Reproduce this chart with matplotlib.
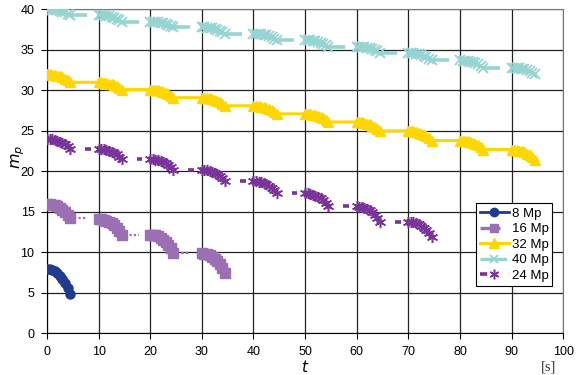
import matplotlib.pyplot as plt
import numpy as np
from matplotlib.lines import Line2D

plt.rcParams['font.family'] = ['Liberation Sans', 'DejaVu Sans']

# time inside each 10 s period where markers are recorded
t_step = [0, 0.5, 1.0, 1.5, 2.0, 2.5, 3.0, 3.5, 4.0, 4.5]

mp8 = [[8.0, 7.94, 7.84, 7.68, 7.42, 7.10, 6.72, 6.24, 5.60, 4.80]]

mp16 = [
    [16.0, 15.96, 15.91, 15.82, 15.68, 15.50, 15.28, 15.01, 14.65, 14.20],
    [14.1, 14.06, 14.01, 13.91, 13.76, 13.57, 13.34, 13.06, 12.68, 12.20],
    [12.2, 12.15, 12.09, 11.97, 11.79, 11.56, 11.28, 10.94, 10.48, 9.90],
    [9.9, 9.85, 9.78, 9.65, 9.45, 9.20, 8.90, 8.53, 8.03, 7.40],
]

mp32 = [
    [32.0, 31.98, 31.95, 31.90, 31.82, 31.72, 31.60, 31.45, 31.25, 31.00],
    [31.0, 30.98, 30.96, 30.91, 30.84, 30.75, 30.64, 30.51, 30.33, 30.10],
    [30.1, 30.08, 30.05, 30.00, 29.92, 29.82, 29.70, 29.55, 29.35, 29.10],
    [29.1, 29.08, 29.05, 29.00, 28.92, 28.82, 28.70, 28.55, 28.35, 28.10],
    [28.1, 28.08, 28.05, 28.00, 27.92, 27.82, 27.70, 27.55, 27.35, 27.10],
    [27.1, 27.08, 27.05, 27.00, 26.92, 26.82, 26.70, 26.55, 26.35, 26.10],
    [26.1, 26.08, 26.05, 25.99, 25.90, 25.79, 25.66, 25.50, 25.28, 25.00],
    [25.0, 24.98, 24.94, 24.88, 24.78, 24.66, 24.52, 24.34, 24.10, 23.80],
    [23.8, 23.78, 23.75, 23.69, 23.60, 23.49, 23.36, 23.20, 22.98, 22.70],
    [22.7, 22.67, 22.64, 22.57, 22.47, 22.34, 22.18, 21.99, 21.73, 21.40],
]

mp40 = [
    [40.0, 39.99, 39.97, 39.93, 39.87, 39.80, 39.72, 39.62, 39.48, 39.30],
    [39.3, 39.28, 39.26, 39.22, 39.16, 39.08, 38.98, 38.86, 38.70, 38.50],
    [38.5, 38.49, 38.47, 38.43, 38.37, 38.30, 38.22, 38.12, 37.98, 37.80],
    [37.8, 37.78, 37.76, 37.72, 37.66, 37.58, 37.48, 37.36, 37.20, 37.00],
    [37.0, 36.98, 36.96, 36.92, 36.86, 36.78, 36.68, 36.56, 36.40, 36.20],
    [36.2, 36.18, 36.16, 36.12, 36.06, 35.98, 35.88, 35.76, 35.60, 35.40],
    [35.4, 35.38, 35.36, 35.32, 35.26, 35.18, 35.08, 34.96, 34.80, 34.60],
    [34.6, 34.58, 34.56, 34.51, 34.44, 34.35, 34.24, 34.11, 33.93, 33.70],
    [33.7, 33.68, 33.66, 33.61, 33.54, 33.45, 33.34, 33.21, 33.03, 32.80],
    [32.8, 32.78, 32.76, 32.72, 32.66, 32.58, 32.48, 32.36, 32.20, 32.00],
]

mp24 = [
    [24.0, 23.98, 23.94, 23.88, 23.78, 23.66, 23.52, 23.34, 23.10, 22.80],
    [22.8, 22.77, 22.74, 22.67, 22.57, 22.44, 22.28, 22.09, 21.83, 21.50],
    [21.5, 21.47, 21.44, 21.37, 21.27, 21.14, 20.98, 20.79, 20.53, 20.20],
    [20.2, 20.17, 20.13, 20.06, 19.95, 19.81, 19.64, 19.43, 19.15, 18.80],
    [18.8, 18.77, 18.73, 18.65, 18.53, 18.38, 18.20, 17.98, 17.68, 17.30],
    [17.3, 17.27, 17.22, 17.14, 17.01, 16.85, 16.66, 16.42, 16.10, 15.70],
    [15.7, 15.66, 15.61, 15.51, 15.36, 15.17, 14.94, 14.66, 14.28, 13.80],
    [13.8, 13.76, 13.71, 13.61, 13.46, 13.27, 13.04, 12.76, 12.38, 11.90],
]

# where the flat part after the markers is visible, seconds into the period
hold16 = (5.2, 7.8)
hold40 = (4.5, 7.8)
hold24 = (7.4, 8.5)

c8 = '#1f3a8f'
c16 = '#9b6fb3'
c32 = '#ffd700'
c40 = '#96d4d4'
c24 = '#7a3399'

fig = plt.figure(figsize=(5.8, 3.75), dpi=100)
ax = fig.add_axes([0.081, 0.111, 0.89, 0.864])

ax.set_xlim(0, 100)
ax.set_ylim(0, 40)
ax.set_xticks(np.arange(0, 101, 10))
ax.set_yticks(np.arange(0, 41, 5))
ax.grid(True, color='#222222', linewidth=0.9)
ax.set_axisbelow(True)
for s in ['top', 'right']:
    ax.spines[s].set_color('#777777')
for s in ['left', 'bottom']:
    ax.spines[s].set_color('black')
ax.tick_params(direction='out', length=4, width=0.8, labelsize=9, pad=5)

ts = np.array(t_step)

# 32 Mp: one continuous line, flat until the next period starts
t32, v32 = [], []
for p, vals in enumerate(mp32):
    t32 += list(ts + 10 * p)
    v32 += vals
    if p < len(mp32) - 1:
        t32.append(10 * (p + 1))
        v32.append(vals[-1])
ax.plot(t32, v32, color=c32, lw=2.2, zorder=3)
for p, vals in enumerate(mp32):
    ax.plot(ts + 10 * p, vals, ls='none', marker='^', ms=7, color=c32, zorder=4)

for p, vals in enumerate(mp40):
    ax.plot(ts + 10 * p, vals, color=c40, lw=2, marker='x', ms=6.5, mew=1.3, zorder=3)
    if p < len(mp40) - 1:
        ax.plot([10 * p + hold40[0], 10 * p + hold40[1]], [vals[-1], vals[-1]],
                color=c40, lw=2.6, solid_capstyle='butt', zorder=3)

for p, vals in enumerate(mp24):
    ax.plot(ts + 10 * p, vals, color=c24, lw=1.5, marker=(6, 2, 0), ms=8, mew=1.1, zorder=3)
    if p < len(mp24) - 1:
        ax.plot([10 * p + hold24[0], 10 * p + hold24[1]], [vals[-1], vals[-1]],
                color=c24, lw=2.6, solid_capstyle='butt', zorder=3)

for p, vals in enumerate(mp16):
    ax.plot(ts + 10 * p, vals, color=c16, lw=1.5, marker='s', ms=6.5, zorder=3)
    if p < len(mp16) - 1:
        ax.plot([10 * p + hold16[0], 10 * p + hold16[1]], [vals[-1], vals[-1]],
                color=c16, lw=1.6, ls=(0, (1, 1)), zorder=3)

for p, vals in enumerate(mp8):
    ax.plot(ts + 10 * p, vals, color=c8, lw=2, marker='o', ms=6.5, zorder=5)

ax.set_ylabel('$m_p$', fontsize=11.5)
ax.yaxis.set_label_coords(-0.038, 0.545)
ax.set_xlabel('$t$', fontsize=11)
ax.xaxis.set_label_coords(0.5, -0.08)
ax.text(0.971, -0.105, '[s]', transform=ax.transAxes, ha='center', va='center',
        fontsize=10.5, family='Liberation Serif', color='#333333')

handles = [
    Line2D([], [], color=c8, lw=2, marker='o', ms=6),
    Line2D([], [], color=c16, lw=2.4, ls=(0, (6, 4)), marker='s', ms=6),
    Line2D([], [], color=c32, lw=2.2, marker='^', ms=6.5),
    Line2D([], [], color=c40, lw=2.4, ls=(0, (8, 3)), marker='x', ms=5.5, mew=1.3),
    Line2D([], [], color=c24, lw=2.6, ls=(0, (2, 6)), marker=(6, 2, 0), ms=7, mew=1.1),
]
labels = ['8 Mp', '16 Mp', '32 Mp', '40 Mp', '24 Mp']
leg = ax.legend(handles, labels, loc='upper left', bbox_to_anchor=(0.831, 0.401),
                borderaxespad=0, fontsize=9.5, handlelength=2.2, handletextpad=0.2,
                labelspacing=0.25, borderpad=0.3, fancybox=False, framealpha=1,
                edgecolor='black')
leg.get_frame().set_linewidth(0.8)

plt.savefig('out.png', dpi=100)
